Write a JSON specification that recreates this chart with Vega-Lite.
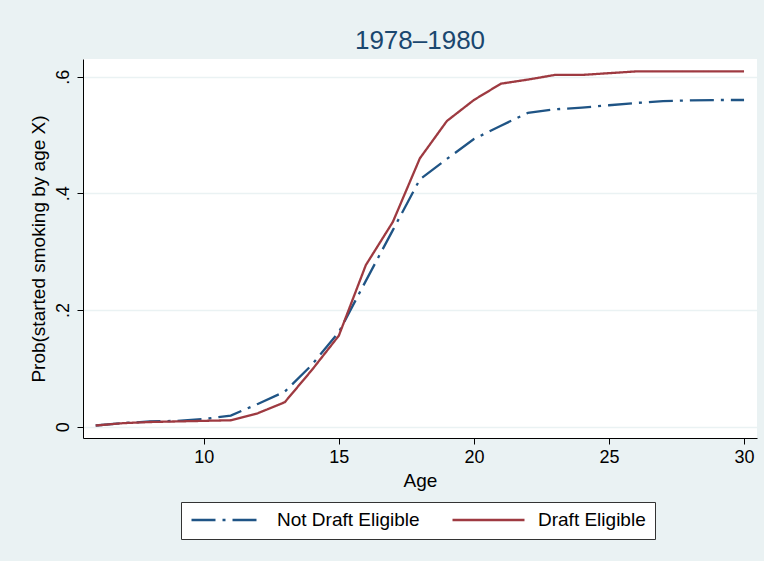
{
  "$schema": "https://vega.github.io/schema/vega-lite/v6.json",
  "width": 674,
  "height": 379,
  "autosize": {"type": "none"},
  "padding": {"left": 83, "top": 59, "right": 7, "bottom": 123},
  "background": "#eaf2f3",
  "view": {"fill": "white", "stroke": null},
  "title": {
    "text": "1978–1980",
    "font": "Liberation Sans",
    "fontSize": 26,
    "fontWeight": "normal",
    "color": "#1a476f",
    "anchor": "middle",
    "frame": "group",
    "baseline": "alphabetic",
    "offset": 9,
    "dy": 25
  },
  "config": {
    "font": "Liberation Sans"
  },
  "data": {
    "values": [
      {"age": 6, "group": "Not Draft Eligible", "p": 0.002},
      {"age": 7, "group": "Not Draft Eligible", "p": 0.006},
      {"age": 8, "group": "Not Draft Eligible", "p": 0.009},
      {"age": 9, "group": "Not Draft Eligible", "p": 0.010},
      {"age": 10, "group": "Not Draft Eligible", "p": 0.013},
      {"age": 11, "group": "Not Draft Eligible", "p": 0.019},
      {"age": 12, "group": "Not Draft Eligible", "p": 0.039},
      {"age": 13, "group": "Not Draft Eligible", "p": 0.060},
      {"age": 14, "group": "Not Draft Eligible", "p": 0.106},
      {"age": 15, "group": "Not Draft Eligible", "p": 0.162},
      {"age": 16, "group": "Not Draft Eligible", "p": 0.250},
      {"age": 17, "group": "Not Draft Eligible", "p": 0.337},
      {"age": 18, "group": "Not Draft Eligible", "p": 0.424},
      {"age": 19, "group": "Not Draft Eligible", "p": 0.459},
      {"age": 20, "group": "Not Draft Eligible", "p": 0.493},
      {"age": 21, "group": "Not Draft Eligible", "p": 0.516},
      {"age": 22, "group": "Not Draft Eligible", "p": 0.538},
      {"age": 23, "group": "Not Draft Eligible", "p": 0.544},
      {"age": 24, "group": "Not Draft Eligible", "p": 0.547},
      {"age": 25, "group": "Not Draft Eligible", "p": 0.551},
      {"age": 26, "group": "Not Draft Eligible", "p": 0.555},
      {"age": 27, "group": "Not Draft Eligible", "p": 0.558},
      {"age": 28, "group": "Not Draft Eligible", "p": 0.5595},
      {"age": 29, "group": "Not Draft Eligible", "p": 0.560},
      {"age": 30, "group": "Not Draft Eligible", "p": 0.560},
      {"age": 6, "group": "Draft Eligible", "p": 0.002},
      {"age": 7, "group": "Draft Eligible", "p": 0.006},
      {"age": 8, "group": "Draft Eligible", "p": 0.008},
      {"age": 9, "group": "Draft Eligible", "p": 0.009},
      {"age": 10, "group": "Draft Eligible", "p": 0.010},
      {"age": 11, "group": "Draft Eligible", "p": 0.011},
      {"age": 12, "group": "Draft Eligible", "p": 0.023},
      {"age": 13, "group": "Draft Eligible", "p": 0.042},
      {"age": 14, "group": "Draft Eligible", "p": 0.097},
      {"age": 15, "group": "Draft Eligible", "p": 0.156},
      {"age": 16, "group": "Draft Eligible", "p": 0.277},
      {"age": 17, "group": "Draft Eligible", "p": 0.351},
      {"age": 18, "group": "Draft Eligible", "p": 0.460},
      {"age": 19, "group": "Draft Eligible", "p": 0.524},
      {"age": 20, "group": "Draft Eligible", "p": 0.560},
      {"age": 21, "group": "Draft Eligible", "p": 0.588},
      {"age": 22, "group": "Draft Eligible", "p": 0.595},
      {"age": 23, "group": "Draft Eligible", "p": 0.603},
      {"age": 24, "group": "Draft Eligible", "p": 0.603},
      {"age": 25, "group": "Draft Eligible", "p": 0.606},
      {"age": 26, "group": "Draft Eligible", "p": 0.609},
      {"age": 27, "group": "Draft Eligible", "p": 0.609},
      {"age": 28, "group": "Draft Eligible", "p": 0.609},
      {"age": 29, "group": "Draft Eligible", "p": 0.609},
      {"age": 30, "group": "Draft Eligible", "p": 0.609}
    ]
  },
  "mark": {"type": "line", "strokeWidth": 2.3, "clip": true},
  "encoding": {
    "x": {
      "field": "age",
      "type": "quantitative",
      "scale": {"domain": [5.53, 30.48], "nice": false, "zero": false},
      "axis": {
        "title": "Age",
        "values": [10, 15, 20, 25, 30],
        "grid": false,
        "domainColor": "#000",
        "domainWidth": 1,
        "tickColor": "#000",
        "tickSize": 6,
        "labelFontSize": 18,
        "labelColor": "#000",
        "labelPadding": 4,
        "titleFontSize": 19,
        "titleFontWeight": "normal",
        "titleColor": "#000",
        "titlePadding": 5
      }
    },
    "y": {
      "field": "p",
      "type": "quantitative",
      "scale": {"domain": [-0.0194, 0.6303], "nice": false, "zero": false},
      "axis": {
        "title": "Prob(started smoking by age X)",
        "values": [0, 0.2, 0.4, 0.6],
        "labelExpr": "datum.value == 0 ? '0' : replace(format(datum.value, '.1f'), '0.', '.')",
        "labelAngle": -90,
        "labelAlign": "center",
        "labelBaseline": "bottom",
        "grid": true,
        "gridColor": "#eaf2f3",
        "gridWidth": 1.5,
        "domainColor": "#000",
        "domainWidth": 1,
        "tickColor": "#000",
        "tickSize": 6,
        "labelFontSize": 18,
        "labelColor": "#000",
        "labelPadding": 5,
        "titleFontSize": 19,
        "titleFontWeight": "normal",
        "titleColor": "#000",
        "titlePadding": 6
      }
    },
    "color": {
      "field": "group",
      "type": "nominal",
      "scale": {
        "domain": ["Not Draft Eligible", "Draft Eligible"],
        "range": ["#1f5485", "#9e3a41"]
      },
      "legend": {
        "title": null,
        "orient": "none",
        "legendX": 98,
        "legendY": 443,
        "direction": "horizontal",
        "strokeColor": "#333",
        "fillColor": "white",
        "padding": 9,
        "symbolType": "stroke",
        "symbolSize": 5184,
        "clipHeight": 18,
        "symbolStrokeWidth": 2.3,
        "labelFontSize": 19,
        "labelColor": "#000",
        "labelOffset": 12,
        "columnPadding": 31
      }
    },
    "strokeDash": {
      "field": "group",
      "type": "nominal",
      "scale": {
        "domain": ["Not Draft Eligible", "Draft Eligible"],
        "range": [[24, 7, 3, 7], [1, 0]]
      },
      "legend": {
        "title": null,
        "orient": "none",
        "legendX": 98,
        "legendY": 443,
        "direction": "horizontal",
        "strokeColor": "#333",
        "fillColor": "white",
        "padding": 9,
        "symbolType": "stroke",
        "symbolSize": 5184,
        "clipHeight": 18,
        "symbolStrokeWidth": 2.3,
        "labelFontSize": 19,
        "labelColor": "#000",
        "labelOffset": 12,
        "columnPadding": 31
      }
    }
  }
}
